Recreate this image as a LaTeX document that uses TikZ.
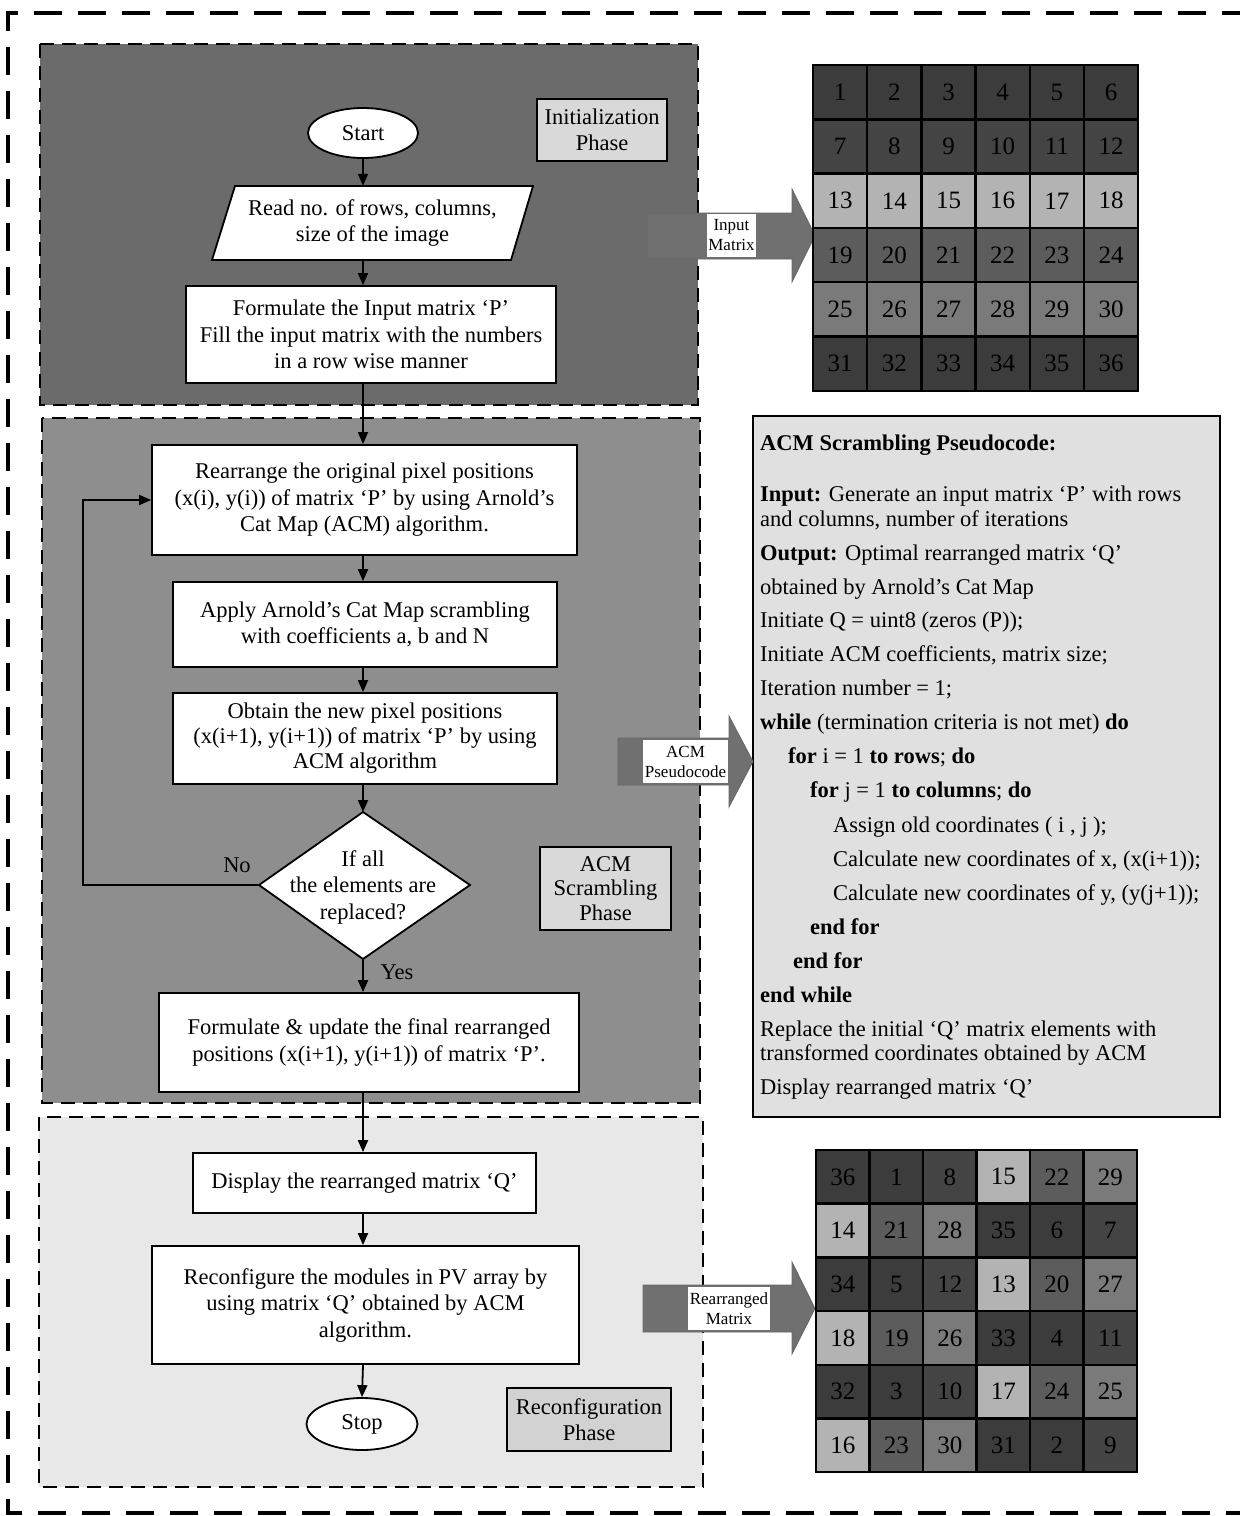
\documentclass[tikz,border=0pt]{standalone}
\usepackage{fontspec}
\setmainfont{Liberation Serif}
\usetikzlibrary{arrows.meta,calc,shapes.geometric}
\definecolor{initbg}{HTML}{6B6B6B}
\definecolor{acmbg}{HTML}{8E8E8E}
\definecolor{recbg}{HTML}{E8E8E8}
\definecolor{phgray}{HTML}{D9D9D9}
\definecolor{recph}{HTML}{D2D2D2}
\definecolor{pcbg}{HTML}{E0E0E0}
\definecolor{bigarr}{HTML}{707070}
\definecolor{rowc0}{HTML}{3C3C3C}
\definecolor{rowc1}{HTML}{444444}
\definecolor{rowc2}{HTML}{B3B3B3}
\definecolor{rowc3}{HTML}{5C5C5C}
\definecolor{rowc4}{HTML}{7A7A7A}
\definecolor{rowc5}{HTML}{3C3C3C}
\newcommand\fmain{\fontsize{22.5}{26.5}\selectfont}
\newcommand\flbl{\fontsize{17}{20}\selectfont}
\newcommand\fcell{\fontsize{25}{30}\selectfont}
\begin{document}
\begin{tikzpicture}[x=1pt,y=-1pt,
  fbox/.style={draw, fill=white, line width=1.8pt, align=center, inner sep=0pt, font=\fmain},
  phbox/.style={draw, line width=2pt, fill=phgray, align=center, inner sep=0pt, font=\fmain},
  term/.style={ellipse, draw, fill=white, line width=1.8pt, inner sep=0pt, font=\fmain},
  arr/.style={line width=1.8pt, -{Triangle[length=12pt,width=10pt]}},
  panel/.style={draw=black, dash pattern=on 14pt off 8pt, line width=2pt},
  outer/.style={draw=black, dash pattern=on 28pt off 16pt, line width=3.5pt},
  cell/.style={draw=black, line width=2.5pt, minimum width=54.2pt, minimum height=54.3pt, inner sep=0pt, font=\fcell},
  cellb/.style={draw=black, line width=2.5pt, minimum width=53.5pt, minimum height=53.7pt, inner sep=0pt, font=\fcell},
  pc/.style={anchor=west, inner sep=0pt, text height=15pt, text depth=5pt, font=\fmain},
  lbl/.style={fill=white, align=center, inner sep=0pt, font=\flbl},
  bigarrow/.style={fill=bigarr, draw=black!60, line width=0.8pt},
  plain/.style={inner sep=0pt, font=\fmain, align=center}]
\useasboundingbox (0,0) rectangle (1240,1516);
\fill[white] (0,0) rectangle (1240,1516);
% outer dashed frame
\draw[outer] (1250,13) -- (8,13) -- (8,1513) -- (1250,1513);
% panels
\filldraw[panel, fill=initbg] (40,44) rectangle (698,405);
\filldraw[panel, fill=acmbg] (42,418) rectangle (700,1103);
\filldraw[panel, fill=recbg] (39,1117) rectangle (703,1487);
% phase boxes
\node[phbox, minimum width=130pt, minimum height=62pt] (initph) at (602,130) {Initialization\\[-1pt]Phase};
\node[phbox, minimum width=131pt, minimum height=83pt] (acmph) at (605.5,888.5) {ACM\\[-2pt]Scrambling\\[-2pt]Phase};
\node[phbox, fill=recph, minimum width=164pt, minimum height=63pt] (recphb) at (589,1419.5) {Reconfiguration\\[-1pt]Phase};
% flowchart
\node[term, minimum width=110pt, minimum height=50pt] (start) at (363,133) {Start};
\node[plain, minimum width=276pt, minimum height=74pt] (read) at (372.5,223) {Read no. of rows, columns,\\size of the image};
\filldraw[fill=white, line width=1.8pt] (235,186) -- (533,186) -- (511,260) -- (212,260) -- cycle;
\node[plain] at (read.center) {Read no. of rows, columns,\\size of the image};
\node[fbox, minimum width=370pt, minimum height=97pt] (formP) at (371,334.5) {Formulate the Input matrix ‘P’\\Fill the input matrix with the numbers\\in a row wise manner};
\node[fbox, minimum width=425pt, minimum height=110pt] (rearr) at (364.5,500) {Rearrange the original pixel positions\\(x(i), y(i)) of matrix ‘P’ by using Arnold’s\\Cat Map (ACM) algorithm.};
\node[fbox, minimum width=384pt, minimum height=85pt] (apply) at (365,624.5) {Apply Arnold’s Cat Map scrambling\\with coefficients a, b and N};
\node[fbox, minimum width=384pt, minimum height=91pt] (obtain) at (365,738.5) {Obtain the new pixel positions\\[-1.5pt](x(i+1), y(i+1)) of matrix ‘P’ by using\\[-1.5pt]ACM algorithm};
\coordinate (dtop) at (363,812);
\coordinate (dright) at (470,885);
\coordinate (dbot) at (363,959);
\coordinate (dleft) at (259,885);
\filldraw[fill=white, line width=1.8pt] (dtop) -- (dright) -- (dbot) -- (dleft) -- cycle;
\node[plain] (dec) at (363,887) {If all\\the elements are\\replaced?};
\node[fbox, minimum width=420pt, minimum height=99pt] (final) at (369,1042.5) {Formulate \& update the final rearranged\\positions (x(i+1), y(i+1)) of matrix ‘P’.};
\node[fbox, minimum width=343pt, minimum height=60pt] (disp) at (364.5,1183) {Display the rearranged matrix ‘Q’};
\node[fbox, minimum width=427pt, minimum height=118pt] (reconf) at (365.5,1305) {Reconfigure the modules in PV array by\\using matrix ‘Q’ obtained by ACM\\algorithm.};
\node[term, minimum width=111pt, minimum height=52pt] (stop) at (362,1424) {Stop};
\node[plain] (nolbl) at (237,865) {No};
\node[plain] (yeslbl) at (397,972) {Yes};
% connectors
\draw[arr] (start.south) -- (start.south |- read.north);
\draw[arr] (start.south |- read.south) -- (start.south |- formP.north);
\draw[arr] (start.south |- formP.south) -- (start.south |- rearr.north);
\draw[arr] (start.south |- rearr.south) -- (start.south |- apply.north);
\draw[arr] (start.south |- apply.south) -- (start.south |- obtain.north);
\draw[arr] (start.south |- obtain.south) -- (dtop);
\draw[arr] (dbot) -- (start.south |- final.north);
\draw[arr] (dleft) -- (83,885) |- (rearr.west);
\draw[arr] (start.south |- final.south) -- (start.south |- disp.north);
\draw[arr] (start.south |- disp.south) -- (start.south |- reconf.north);
\draw[arr] (start.south |- reconf.south) -- (stop.north);
% pseudocode box
\filldraw[fill=pcbg, draw=black, line width=2pt] (753,416) rectangle (1220,1117);
\node[pc] (pc1) at (760,445) {\textbf{ACM Scrambling Pseudocode:}};
\node[pc] (pc2) at (760,496) {\textbf{Input:} Generate an input matrix ‘P’ with rows};
\node[pc] (pc3) at (760,521) {and columns, number of iterations};
\node[pc] (pc4) at (760,555) {\textbf{Output:} Optimal rearranged matrix ‘Q’};
\node[pc] (pc5) at (760,589) {obtained by Arnold’s Cat Map};
\node[pc] (pc6) at (760,622) {Initiate Q = uint8 (zeros (P));};
\node[pc] (pc7) at (760,656) {Initiate ACM coefficients, matrix size;};
\node[pc] (pc8) at (760,690) {Iteration number = 1;};
\node[pc] (pc9) at (760,724) {\textbf{while} (termination criteria is not met) \textbf{do}};
\node[pc] (pc10) at (788,758) {\textbf{for} i = 1 \textbf{to rows}; \textbf{do}};
\node[pc] (pc11) at (810,792) {\textbf{for} j = 1 \textbf{to columns}; \textbf{do}};
\node[pc] (pc12) at (833,827) {Assign old coordinates ( i , j );};
\node[pc] (pc13) at (833,861) {Calculate new coordinates of x, (x(i+1));};
\node[pc] (pc14) at (833,895) {Calculate new coordinates of y, (y(j+1));};
\node[pc] (pc15) at (810,929) {\textbf{end for}};
\node[pc] (pc16) at (793,963) {\textbf{end for}};
\node[pc] (pc17) at (760,997) {\textbf{end while}};
\node[pc] (pc18) at (760,1031) {Replace the initial ‘Q’ matrix elements with};
\node[pc] (pc19) at (760,1055) {transformed coordinates obtained by ACM};
\node[pc] (pc20) at (760,1089) {Display rearranged matrix ‘Q’};
% big arrows
\filldraw[bigarrow] (647,213) -- (792,213) -- (792,189) -- (815,235.5) -- (792,282) -- (792,259) -- (647,259) -- cycle;
\node[lbl, minimum width=49pt, minimum height=43pt] (lblin) at (731.5,235.5) {Input\\Matrix};
\filldraw[bigarrow] (618,738) -- (729,738) -- (729,716) -- (753,761.5) -- (729,807) -- (729,785) -- (618,785) -- cycle;
\node[lbl, minimum width=85pt, minimum height=43pt] (lblacm) at (685.5,761.5) {ACM\\Pseudocode};
\filldraw[bigarrow] (643,1285) -- (792,1285) -- (792,1262) -- (815,1308.5) -- (792,1354) -- (792,1332) -- (643,1332) -- cycle;
\node[lbl, minimum width=82pt, minimum height=43pt] (lblre) at (729,1308.5) {Rearranged\\Matrix};
% input matrix
\foreach \r in {0,...,5} {
  \foreach \c in {0,...,5} {
    \pgfmathtruncatemacro\cellnum{6*\r+\c+1}
    \node[cell, fill=rowc\r] (ma\cellnum) at (813+54.2*\c+27.1, 65+54.3*\r+27.15) {\cellnum};
  }
}
% rearranged matrix
\foreach \n [count=\k from 0] in {36,1,8,15,22,29,14,21,28,35,6,7,34,5,12,13,20,27,18,19,26,33,4,11,32,3,10,17,24,25,16,23,30,31,2,9} {
  \pgfmathtruncatemacro\rowi{floor(\k/6)}
  \pgfmathtruncatemacro\coli{\k-6*\rowi}
  \pgfmathtruncatemacro\grpi{floor((\n-1)/6)}
  \node[cellb, fill=rowc\grpi] (mb\k) at (816+53.5*\coli+26.75, 1150+53.7*\rowi+26.85) {\n};
}
\end{tikzpicture}
\end{document}
